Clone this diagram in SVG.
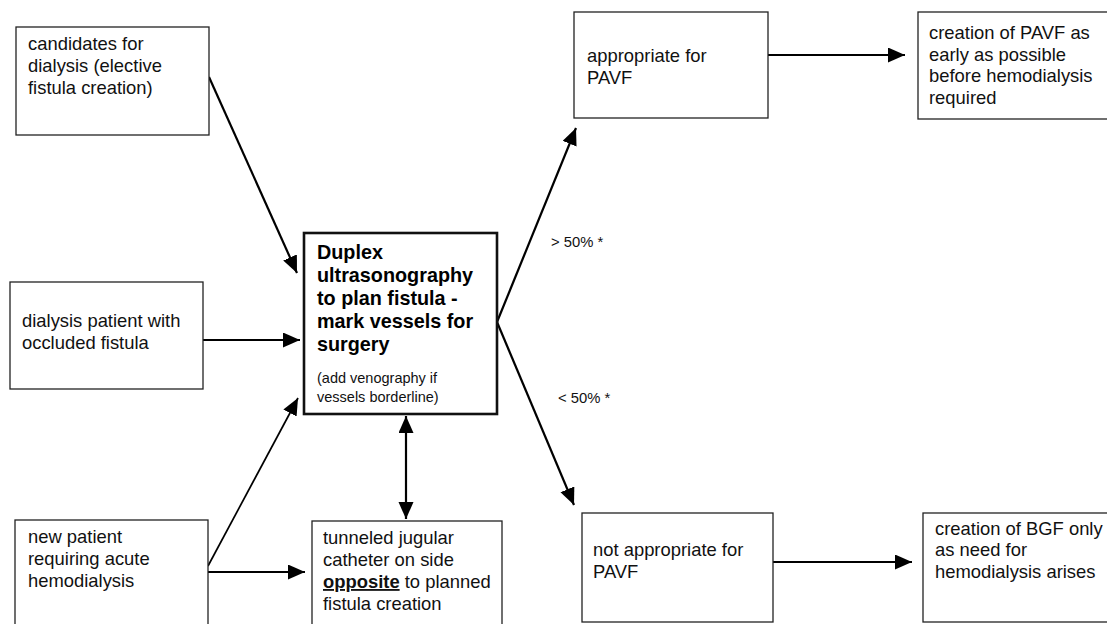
<svg xmlns="http://www.w3.org/2000/svg" width="1107" height="624" viewBox="0 0 1107 624">
<defs>
<marker id="ah" markerUnits="userSpaceOnUse" markerWidth="18" markerHeight="16" refX="17" refY="7.5" orient="auto-start-reverse">
<path d="M0,0 L17,7.5 L0,15 z" fill="#000"/>
</marker>
<style>
.box{fill:#fff;stroke:#222;stroke-width:1.3}
.main{fill:#fff;stroke:#111;stroke-width:2.6}
.t{font-family:"Liberation Sans",Arial,sans-serif;font-size:18.4px;fill:#111}
.b{font-family:"Liberation Sans",Arial,sans-serif;font-size:19.8px;font-weight:bold;fill:#000}
.s{font-family:"Liberation Sans",Arial,sans-serif;font-size:14.5px;fill:#111}
.l{font-family:"Liberation Sans",Arial,sans-serif;font-size:14.8px;fill:#111}
.c{stroke:#000;stroke-width:2.2;fill:none}
</style>
</defs>
<rect width="1107" height="624" fill="#fff"/>

<g id="connectors">
<line class="c" x1="209" y1="77" x2="297" y2="273" marker-end="url(#ah)"/>
<line class="c" x1="203" y1="340" x2="300" y2="340" marker-end="url(#ah)"/>
<line class="c" x1="208" y1="566" x2="298" y2="398" marker-end="url(#ah)" style="stroke-width:1.7"/>
<line class="c" x1="208" y1="572" x2="305" y2="572" marker-end="url(#ah)"/>
<line class="c" x1="406" y1="416" x2="406" y2="519" marker-start="url(#ah)" marker-end="url(#ah)"/>
<line class="c" x1="497" y1="322" x2="576" y2="128" marker-end="url(#ah)"/>
<line class="c" x1="497" y1="322" x2="574" y2="505" marker-end="url(#ah)"/>
<line class="c" x1="768" y1="55" x2="905" y2="55" marker-end="url(#ah)"/>
<line class="c" x1="773" y1="562" x2="912" y2="562" marker-end="url(#ah)"/>
<text class="l" x="551" y="247">&gt; 50% *</text>
<text class="l" x="558" y="403">&lt; 50% *</text>
</g>

<g id="candidates">
<rect class="box" x="16" y="27" width="193" height="108"/>
<text class="t" x="28" y="50">candidates for</text>
<text class="t" x="28" y="72">dialysis (elective</text>
<text class="t" x="28" y="94">fistula creation)</text>
</g>

<g id="occluded">
<rect class="box" x="10" y="282" width="193" height="107"/>
<text class="t" x="22" y="327">dialysis patient with</text>
<text class="t" x="22" y="349">occluded fistula</text>
</g>

<g id="newpatient">
<rect class="box" x="15" y="520" width="193" height="110"/>
<text class="t" x="28" y="543">new patient</text>
<text class="t" x="28" y="565">requiring acute</text>
<text class="t" x="28" y="587">hemodialysis</text>
</g>

<g id="duplex">
<rect class="main" x="304" y="233" width="193" height="181"/>
<text class="b" x="317" y="259">Duplex</text>
<text class="b" x="317" y="282">ultrasonography</text>
<text class="b" x="317" y="305">to plan fistula -</text>
<text class="b" x="317" y="328">mark vessels for</text>
<text class="b" x="317" y="351">surgery</text>
<text class="s" x="317" y="383">(add venography if</text>
<text class="s" x="317" y="402">vessels borderline)</text>
</g>

<g id="catheter">
<rect class="box" x="312" y="521" width="190" height="110"/>
<text class="t" x="323" y="544">tunneled jugular</text>
<text class="t" x="323" y="566">catheter on side</text>
<text class="t" x="323" y="588"><tspan font-weight="bold" text-decoration="underline">opposite</tspan> to planned</text>
<text class="t" x="323" y="610">fistula creation</text>
</g>

<g id="appropriate">
<rect class="box" x="574" y="12" width="194" height="106"/>
<text class="t" x="587" y="62">appropriate for</text>
<text class="t" x="587" y="84">PAVF</text>
</g>

<g id="pavf">
<rect class="box" x="918" y="12" width="195" height="107"/>
<text class="t" x="929" y="39">creation of PAVF as</text>
<text class="t" x="929" y="61">early as possible</text>
<text class="t" x="929" y="82">before hemodialysis</text>
<text class="t" x="929" y="104">required</text>
</g>

<g id="notappropriate">
<rect class="box" x="582" y="513" width="191" height="109"/>
<text class="t" x="593" y="556">not appropriate for</text>
<text class="t" x="593" y="578">PAVF</text>
</g>

<g id="bgf">
<rect class="box" x="923" y="513" width="190" height="109"/>
<text class="t" x="935" y="535">creation of BGF only</text>
<text class="t" x="935" y="556">as need for</text>
<text class="t" x="935" y="578">hemodialysis arises</text>
</g>
</svg>
